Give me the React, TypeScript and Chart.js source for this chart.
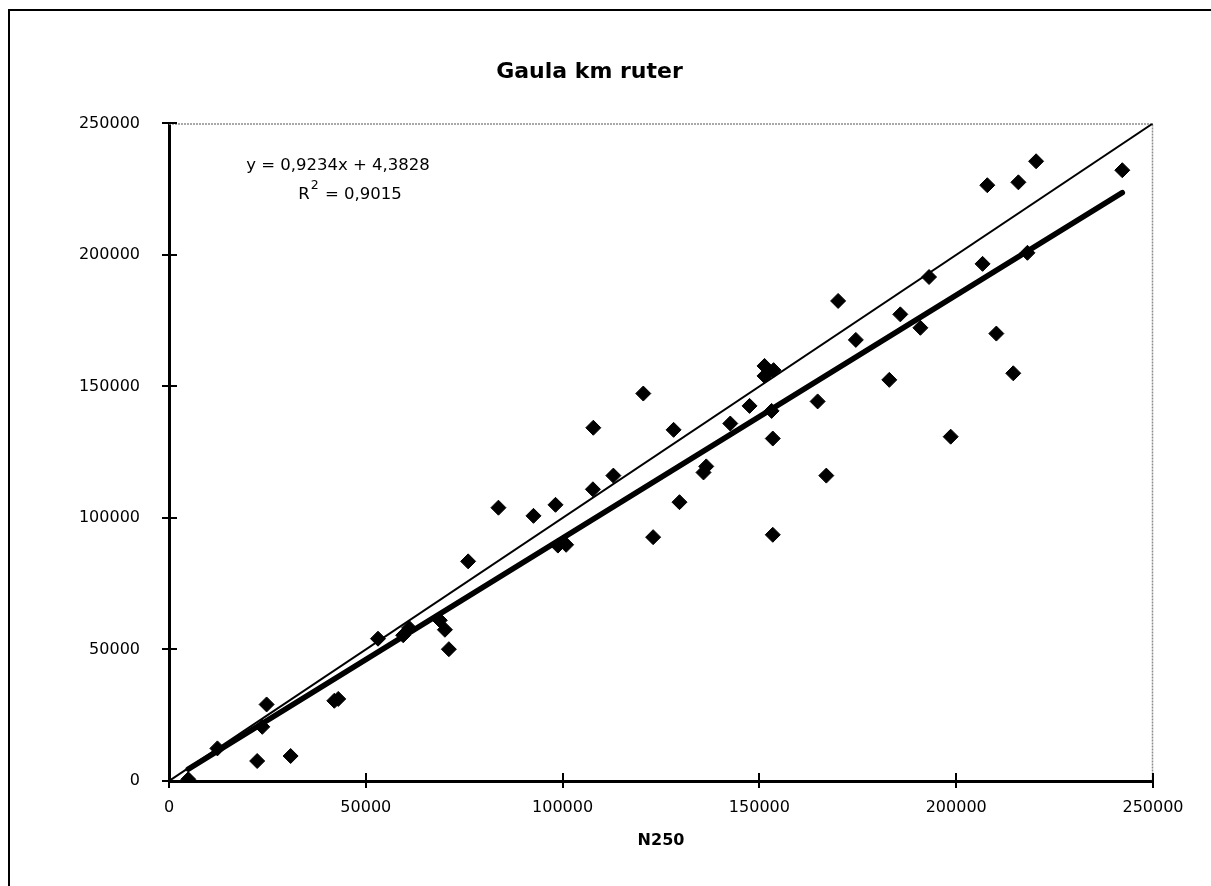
import React, { useEffect, useRef } from "react";
import { Chart, registerables } from "chart.js";

Chart.register(...registerables);

// ---------- data ----------
const chartTitle = "Gaula km ruter";
const xAxisTitle = "N250";

const xN250 = [
  4900, 12300, 22400, 23700, 24800, 30900, 42000, 43000, 53100, 59500,
  61000, 68800, 70100, 71100, 76000, 83700, 92600, 98200, 98800, 100900,
  107700, 107800, 112900, 120500, 123000, 128200, 129700, 135800, 136500, 142600,
  147500, 151300, 151300, 153100, 153400, 153400, 153600, 164800, 167000, 170000,
  174500, 183000, 185800, 190900, 193100, 198600, 206700, 207900, 210200, 214500,
  215800, 218100, 220300, 242200,
];
const yKm = [
  640, 12400, 7600, 20600, 29100, 9500, 30500, 31200, 54100, 55400,
  58200, 61100, 57500, 50100, 83500, 103900, 100800, 105000, 89500, 89800,
  110900, 134300, 116100, 147300, 92700, 133500, 106000, 117300, 119600, 135900,
  142600, 157800, 154000, 140700, 130200, 93600, 156200, 144300, 116100, 182500,
  167700, 152500, 177400, 172300, 191600, 130900, 196600, 226500, 170100, 155000,
  227600, 200800, 235600, 232200,
];

// y = x reference line
const identityX = [0, 250000];
const identityY = [0, 250000];

// linear trendline end points (y = 0,9234x + 4,3828)
const trendX = [4900, 242200];
const trendY = [4530, 223650];

const axisMin = 0;
const axisMax = 250000;
const axisStep = 50000;

const equationText = "y = 0,9234x + 4,3828";
const rSquaredLabel = "R";
const rSquaredSup = "2";
const rSquaredValue = " = 0,9015";

const FONT = "'DejaVu Sans', 'Liberation Sans', sans-serif";

const extrasPlugin = {
  id: "extras",
  beforeDatasetsDraw(chart: any) {
    const { ctx, chartArea: a } = chart;
    ctx.save();
    ctx.strokeStyle = "#8c8c8c";
    ctx.lineWidth = 1.5;
    ctx.setLineDash([2, 1]);
    ctx.beginPath();
    ctx.moveTo(a.left, a.top + 0.5);
    ctx.lineTo(a.right - 0.5, a.top + 0.5);
    ctx.lineTo(a.right - 0.5, a.bottom);
    ctx.stroke();
    ctx.restore();
  },
  afterDraw(chart: any) {
    const { ctx, chartArea: a, scales } = chart;
    const xs = scales.x;
    const ys = scales.y;
    ctx.save();
    // inner halves of the crossing tick marks
    ctx.strokeStyle = "#000";
    ctx.lineWidth = 2;
    xs.ticks.forEach((t: any) => {
      const px = Math.round(xs.getPixelForValue(t.value));
      ctx.beginPath();
      ctx.moveTo(px, a.bottom);
      ctx.lineTo(px, a.bottom - 8);
      ctx.stroke();
    });
    ys.ticks.forEach((t: any) => {
      const py = Math.round(ys.getPixelForValue(t.value));
      ctx.beginPath();
      ctx.moveTo(a.left, py);
      ctx.lineTo(a.left + 8, py);
      ctx.stroke();
    });

    // regression text
    ctx.fillStyle = "#000";
    ctx.textBaseline = "middle";
    ctx.textAlign = "left";
    const mainFont = `16.5px ${FONT}`;
    const supFont = `12.5px ${FONT}`;
    ctx.font = mainFont;
    const w1 = ctx.measureText(equationText).width;
    const c1x = a.left + 169;
    const c1y = a.top + 42;
    ctx.fillText(equationText, c1x - w1 / 2, c1y);

    const wR = ctx.measureText(rSquaredLabel).width;
    const wV = ctx.measureText(rSquaredValue).width;
    ctx.font = supFont;
    const wS = ctx.measureText(rSquaredSup).width;
    const total = wR + wS + 2 + wV;
    const c2x = a.left + 181;
    const c2y = a.top + 71;
    let x = c2x - total / 2;
    ctx.font = mainFont;
    ctx.fillText(rSquaredLabel, x, c2y);
    x += wR + 1;
    ctx.font = supFont;
    ctx.fillText(rSquaredSup, x, c2y - 9);
    x += wS + 1;
    ctx.font = mainFont;
    ctx.fillText(rSquaredValue, x, c2y);
    ctx.restore();
  },
};

function makeAxis(isX: boolean) {
  return {
    type: "linear",
    position: isX ? "bottom" : "left",
    min: axisMin,
    max: axisMax,
    ticks: {
      stepSize: axisStep,
      autoSkip: false,
      maxRotation: 0,
      color: "#000",
      font: { family: FONT, size: 16 },
      padding: isX ? 10 : 22,
      callback: (v: any) => String(v),
    },
    grid: {
      display: true,
      drawOnChartArea: false,
      drawTicks: true,
      tickLength: 7,
      color: "#000",
      lineWidth: 2,
    },
    border: { display: true, color: "#000", width: 3 },
    title: isX
      ? {
          display: true,
          text: xAxisTitle,
          color: "#000",
          font: { family: FONT, size: 16, weight: "bold" },
          padding: { top: 0, bottom: 36 },
        }
      : { display: false },
    afterFit: (s: any) => {
      if (isX) s.height = 105;
      else s.width = 143;
    },
  };
}

export default function App() {
  const canvasRef = useRef<HTMLCanvasElement | null>(null);

  useEffect(() => {
    document.body.style.overflow = "hidden";
    const canvas = canvasRef.current;
    if (!canvas) return;
    const points = xN250.map((x, i) => ({ x, y: yKm[i] }));
    const identity = identityX.map((x, i) => ({ x, y: identityY[i] }));
    const trend = trendX.map((x, i) => ({ x, y: trendY[i] }));

    const chart = new Chart(canvas, {
      type: "scatter",
      data: {
        datasets: [
          {
            label: "Gaula km ruter",
            data: points,
            pointStyle: "rectRot",
            pointRadius: 7.5,
            backgroundColor: "#000",
            borderColor: "#000",
            borderWidth: 1,
          },
          {
            label: "y = x",
            data: identity,
            showLine: true,
            pointRadius: 0,
            borderColor: "#000",
            borderWidth: 2,
            backgroundColor: "#000",
          },
          {
            label: "Lineær trend",
            data: trend,
            showLine: true,
            pointRadius: 0,
            borderColor: "#000",
            borderWidth: 5.5,
            borderCapStyle: "round",
            backgroundColor: "#000",
          },
        ],
      } as any,
      options: {
        responsive: false,
        animation: false,
        events: [],
        layout: { padding: { left: 16, right: 58, top: 0, bottom: 0 } },
        plugins: {
          legend: { display: false },
          tooltip: { enabled: false },
          title: {
            display: true,
            text: chartTitle,
            color: "#000",
            font: { family: FONT, size: 22, weight: "bold" },
            padding: { top: 48, bottom: 38 },
          },
        },
        scales: {
          x: makeAxis(true),
          y: makeAxis(false),
        },
      } as any,
      plugins: [extrasPlugin],
    });
    return () => chart.destroy();
  }, []);

  return (
    <div
      style={{
        position: "absolute",
        left: 8,
        top: 9,
        borderTop: "2px solid #000",
        borderLeft: "2px solid #000",
        background: "#fff",
      }}
    >
      <canvas
        ref={canvasRef}
        width={1201}
        height={875}
        style={{ display: "block", width: 1201, height: 875 }}
      />
    </div>
  );
}
